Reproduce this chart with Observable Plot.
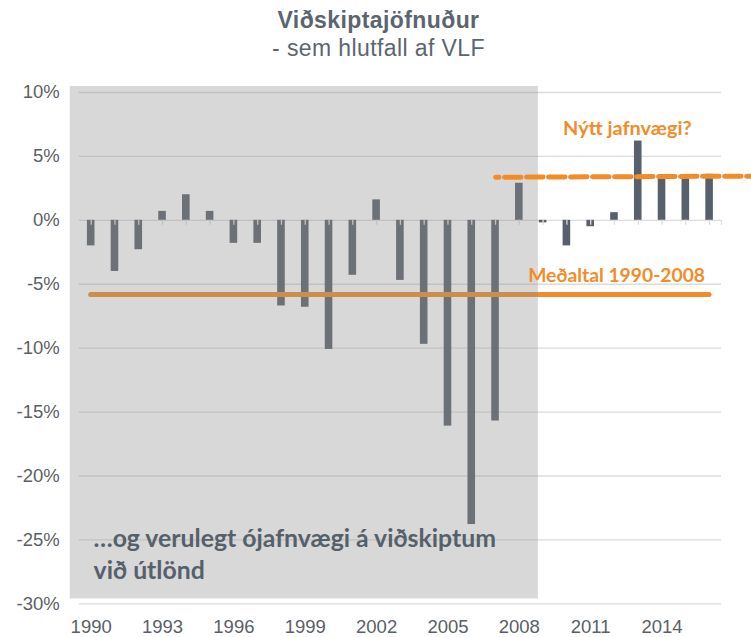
<!DOCTYPE html>
<html>
<head>
<meta charset="utf-8">
<script src="https://cdn.jsdelivr.net/npm/d3@7"></script>
<script src="https://cdn.jsdelivr.net/npm/@observablehq/plot@0.6"></script>
<style>
  html, body { margin: 0; padding: 0; background: #fff; }
  #wrap { width: 751px; height: 637px; overflow: hidden; position: relative; }
  #head { height: 70px; box-sizing: border-box; padding-top: 6px; text-align: center; font-family: "Liberation Sans", Arial, sans-serif; color: #5b6570; padding-left: 6px; }
  #head .t { font-size: 23px; font-weight: bold; line-height: 28px; letter-spacing: 0.4px; }
  #head .s { font-size: 23px; line-height: 28px; letter-spacing: 0.4px; }
</style>
</head>
<body>
<div id="wrap">
  <div id="head"><div class="t">Viðskiptajöfnuður</div><div class="s">- sem hlutfall af VLF</div></div>
  <div id="chart"></div>
</div>
<script>
// --- data ---
const years = [1990,1991,1992,1993,1994,1995,1996,1997,1998,1999,2000,2001,2002,2003,2004,2005,2006,2007,2008,2009,2010,2011,2012,2013,2014,2015,2016];
const values = [-2.0,-4.0,-2.3,0.7,2.0,0.7,-1.8,-1.8,-6.7,-6.8,-10.1,-4.3,1.6,-4.7,-9.7,-16.1,-23.8,-15.7,2.9,-0.2,-2.0,-0.5,0.6,6.2,3.3,3.3,3.6];
const yTicks = [10,5,0,-5,-10,-15,-20,-25,-30];
const yTickLabels = ["10%","5%","0%","-5%","-10%","-15%","-20%","-25%","-30%"];
const xTicks = [1990,1993,1996,1999,2002,2005,2008,2011,2014];
const averageValue = -5.8;          // Meðaltal 1990-2008
const averageYears = [1990, 2016];
const newEqYears = [2007, 2018];     // "Nýtt jafnvægi?" dashed line
const newEqValues = [3.37, 3.46];
const shadeYears = [1989.12, 2008.8];
const shadeValues = [10.47, -29.62];

const data = years.map((year, i) => ({year, value: values[i]}));
const dashData = newEqYears.map((x, i) => ({x, y: newEqValues[i]}));

const ORANGE = "#f28c28";
const BAR = "#58616b";
const GRID = "#dcdcdc";
const TXT = "#5a5f66";

const chart = Plot.plot({
  width: 751,
  height: 567,
  marginTop: 22,
  marginBottom: 33.7,
  marginLeft: 78.8,
  marginRight: 30,
  style: {fontFamily: "'Liberation Sans', Arial, sans-serif", background: "transparent", overflow: "visible"},
  x: {domain: [1989.5, 2016.5], label: null},
  y: {domain: [-30, 10], label: null},
  marks: [
    Plot.gridY(yTicks, {stroke: GRID, strokeOpacity: 1, strokeWidth: 1.3}),
    Plot.rectY(data, {x1: d => d.year - 0.5, x2: d => d.year + 0.5, y: "value", insetLeft: 8.1, insetRight: 8.1, fill: BAR}),
    Plot.ruleX(years.concat([2016.5]), {x: d => d, y1: () => 0, y2: () => 0, insetBottom: -5, stroke: GRID, strokeWidth: 1.3}),
    Plot.ruleY([averageValue], {x1: averageYears[0], x2: averageYears[1], stroke: ORANGE, strokeWidth: 5, strokeLinecap: "round"}),
    Plot.rect([0], {x1: shadeYears[0], x2: shadeYears[1], y1: shadeValues[0], y2: shadeValues[1], fill: "#8f8f8f", fillOpacity: 0.35,
      style: {filter: "drop-shadow(-1px 2px 2px rgba(0,0,0,0.25))"}}),
    Plot.line(dashData, {x: "x", y: "y", stroke: ORANGE, strokeWidth: 5, strokeDasharray: "16.5,5.5", strokeDashoffset: 13, clip: false,
      style: {filter: "drop-shadow(0px 4px 2px rgba(0,0,0,0.18))"}}),
    Plot.axisY({ticks: yTicks, label: null, tickSize: 0, tickPadding: 19.5, tickFormat: d => yTickLabels[yTicks.indexOf(d)], fontSize: 18.5, fill: TXT}),
    Plot.axisX({ticks: xTicks, label: null, tickSize: 0, tickPadding: 16, tickFormat: d => String(d), fontSize: 18.5, fill: TXT}),
    Plot.text(["Nýtt jafnvægi?"], {x: 2012.54, y: 6.71, text: d => d, fill: ORANGE, fontSize: 19.9, fontWeight: "bold", fontFamily: "Lato", textAnchor: "middle", lineAnchor: "bottom"}),
    Plot.text(["Meðaltal 1990-2008"], {x: 2012.09, y: -4.84, text: d => d, fill: ORANGE, fontSize: 19.3, fontWeight: "bold", fontFamily: "Lato", textAnchor: "middle", lineAnchor: "bottom"}),
    Plot.text(["…og verulegt ójafnvægi á viðskiptum\nvið útlönd"], {x: 1990.1, y: -28.03, text: d => d, fill: "#56606b", fontSize: 24.8, fontWeight: "bold", fontFamily: "Lato", textAnchor: "start", lineAnchor: "bottom", lineHeight: 31.3/24.8})
  ]
});
document.getElementById("chart").appendChild(chart);
</script>
</body>
</html>
